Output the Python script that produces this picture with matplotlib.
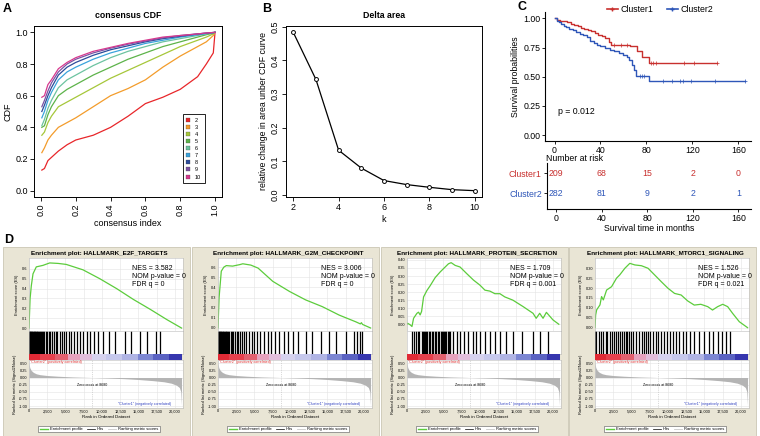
import numpy as np
import matplotlib.pyplot as plt
from matplotlib.patches import Rectangle
from matplotlib.lines import Line2D

plt.rcParams['font.family'] = ['Liberation Sans', 'DejaVu Sans']

# ---------------- data ----------------
# A: consensus CDF
cdf_x = [0.005, 0.02, 0.04, 0.06, 0.1, 0.15, 0.2, 0.3, 0.4, 0.5, 0.6, 0.7, 0.8, 0.9, 0.95, 0.99, 1.0]
cdf_k = ['2', '3', '4', '5', '6', '7', '8', '9', '10']
cdf_y = {
    '2': [0.13, 0.14, 0.19, 0.21, 0.25, 0.29, 0.32, 0.35, 0.40, 0.47, 0.55, 0.59, 0.64, 0.72, 0.80, 0.87, 1.0],
    '3': [0.24, 0.27, 0.32, 0.35, 0.40, 0.43, 0.46, 0.53, 0.60, 0.645, 0.70, 0.78, 0.85, 0.91, 0.94, 0.98, 1.0],
    '4': [0.35, 0.37, 0.43, 0.47, 0.53, 0.56, 0.59, 0.65, 0.71, 0.76, 0.81, 0.86, 0.91, 0.95, 0.97, 0.99, 1.0],
    '5': [0.40, 0.41, 0.48, 0.53, 0.60, 0.64, 0.67, 0.73, 0.78, 0.83, 0.87, 0.91, 0.94, 0.97, 0.985, 0.995, 1.0],
    '6': [0.41, 0.45, 0.52, 0.57, 0.65, 0.70, 0.73, 0.79, 0.84, 0.88, 0.91, 0.94, 0.96, 0.98, 0.99, 0.998, 1.0],
    '7': [0.46, 0.50, 0.57, 0.62, 0.70, 0.75, 0.78, 0.83, 0.87, 0.90, 0.93, 0.95, 0.97, 0.985, 0.992, 0.998, 1.0],
    '8': [0.50, 0.54, 0.60, 0.65, 0.73, 0.78, 0.81, 0.855, 0.89, 0.915, 0.94, 0.96, 0.975, 0.99, 0.995, 0.999, 1.0],
    '9': [0.53, 0.57, 0.63, 0.68, 0.75, 0.80, 0.83, 0.87, 0.90, 0.925, 0.945, 0.965, 0.98, 0.99, 0.995, 0.999, 1.0],
    '10': [0.59, 0.60, 0.67, 0.70, 0.77, 0.81, 0.84, 0.88, 0.905, 0.93, 0.95, 0.97, 0.98, 0.99, 0.996, 0.999, 1.0],
}
cdf_colors = ['#E8262A', '#F39C2B', '#A6C73A', '#5DB34A', '#6CC3A0', '#3AA3DC', '#2B4C9B', '#7B52A3', '#D6398E']

# B: delta area
delta_k = [2, 3, 4, 5, 6, 7, 8, 9, 10]
delta_val = [0.483, 0.343, 0.133, 0.080, 0.043, 0.031, 0.023, 0.016, 0.013]

# C: survival
c1_time = [0, 2, 5, 8, 11, 14, 17, 20, 23, 26, 29, 32, 35, 38, 41, 44, 47, 49, 66, 72, 76, 82, 141]
c1_surv = [1.0, 0.99, 0.98, 0.975, 0.965, 0.955, 0.945, 0.935, 0.92, 0.91, 0.9, 0.89, 0.875, 0.86,
           0.85, 0.83, 0.80, 0.77, 0.76, 0.72, 0.67, 0.62, 0.62]
c1_cens = [52, 58, 63, 84, 86, 88, 113, 121, 141]
c2_time = [0, 2, 4, 6, 8, 10, 13, 16, 19, 22, 25, 28, 31, 34, 37, 40, 44, 48, 52, 56, 60, 63, 65,
           67, 69, 71, 82, 166]
c2_surv = [1.0, 0.98, 0.965, 0.95, 0.935, 0.925, 0.91, 0.9, 0.885, 0.87, 0.855, 0.84, 0.81, 0.79,
           0.775, 0.76, 0.745, 0.73, 0.72, 0.705, 0.69, 0.67, 0.64, 0.6, 0.56, 0.51, 0.46, 0.46]
c2_cens = [74, 76, 78, 94, 102, 109, 112, 119, 140, 166]
risk_times = [0, 40, 80, 120, 160]
risk_c1 = [209, 68, 15, 2, 0]
risk_c2 = [282, 81, 9, 2, 1]
p_text = 'p = 0.012'

# D: GSEA
gsea_names = ['HALLMARK_E2F_TARGETS', 'HALLMARK_G2M_CHECKPOINT',
              'HALLMARK_PROTEIN_SECRETION', 'HALLMARK_MTORC1_SIGNALING']
gsea_nes = ['3.582', '3.006', '1.709', '1.526']
gsea_p = ['0', '0', '0', '0']
gsea_fdr = ['0', '0', '0.001', '0.021']
es_rank = [
    [0, 150, 320, 550, 1000, 1900, 2840, 4000, 5100, 7400, 9700, 12000, 14300, 16600, 18900, 20900],
    [0, 150, 450, 800, 1140, 2000, 3000, 3400, 4500, 5500, 7500, 9800, 12000, 14300, 16600, 18900,
     19500, 19650, 19800, 20900],
    [0, 90, 450, 680, 900, 1360, 1580, 1800, 2000, 2270, 2730, 3180, 3860, 4540, 5230, 5680, 6050,
     6600, 7270, 8180, 9100, 10000, 10680, 11360, 12040, 12730, 13400, 14500, 15900, 17270, 17700,
     18180, 18640, 19100, 20000, 20800],
    [0, 90, 230, 680, 900, 1140, 1590, 2270, 2950, 3400, 4090, 4770, 5450, 6360, 7270, 8180, 9090,
     10000, 10900, 11800, 12700, 13600, 14500, 15450, 16100, 16800, 17500, 18180, 18860, 19770, 20900],
]
es_val = [
    [0.0, 0.30, 0.43, 0.55, 0.62, 0.635, 0.66, 0.655, 0.645, 0.59, 0.50, 0.40, 0.29, 0.19, 0.085, 0.0],
    [0.0, 0.30, 0.56, 0.60, 0.615, 0.61, 0.625, 0.633, 0.62, 0.59, 0.46, 0.36, 0.277, 0.21, 0.127,
     0.06, 0.04, 0.052, 0.035, 0.0],
    [0.0, 0.006, -0.004, -0.014, 0.037, 0.068, 0.075, 0.058, 0.08, 0.17, 0.21, 0.24, 0.29, 0.325,
     0.356, 0.376, 0.383, 0.366, 0.356, 0.315, 0.275, 0.243, 0.212, 0.206, 0.19, 0.19, 0.17, 0.15,
     0.11, 0.068, 0.037, 0.068, 0.037, 0.074, 0.027, 0.0],
    [0.0, 0.064, 0.09, 0.115, 0.157, 0.14, 0.19, 0.207, 0.25, 0.267, 0.30, 0.325, 0.317, 0.313, 0.30,
     0.266, 0.232, 0.199, 0.173, 0.165, 0.135, 0.114, 0.118, 0.106, 0.089, 0.106, 0.118, 0.106,
     0.072, 0.03, 0.0],
]
gsea_hits = [
    [30, 80, 130, 200, 260, 320, 400, 470, 550, 620, 700, 780, 850, 950, 1050, 1150, 1250, 1380,
     1500, 1650, 1800, 1950, 2100, 2300, 2500, 2700, 2900, 3150, 3400, 3650, 3900, 4200, 4500, 4800,
     5100, 5450, 5800, 6200, 6600, 7000, 7400, 7900, 8400, 8900, 9500, 10100, 11000, 11800, 13100,
     14000, 15200, 16100, 17400, 17900],
    [40, 90, 150, 220, 300, 380, 460, 540, 630, 720, 820, 920, 1030, 1150, 1280, 1420, 1570, 1730,
     1900, 2100, 2300, 2550, 2800, 3050, 3300, 3600, 3900, 4250, 4600, 5000, 5400, 5800, 6300, 6800,
     7300, 7800, 8400, 9000, 9600, 10300, 11000, 12000, 12900, 14100, 15200, 16100, 17500, 18600,
     19000, 19500, 19700],
    [700, 900, 1300, 1500, 1700, 2000, 2150, 2300, 2450, 2600, 2800, 3000, 3200, 3400, 3600, 3800,
     4000, 4200, 4400, 4600, 4800, 4950, 5100, 5250, 5400, 5550, 5700, 5900, 6300, 6800, 7300, 7800,
     8400, 9000, 9500, 10000, 10700, 11400, 12000, 12800, 13600, 14500, 15700, 17300, 18200, 19300],
    [50, 200, 600, 850, 1100, 1500, 1700, 2000, 2300, 2600, 2900, 3200, 3400, 3700, 3950, 4200, 4450,
     4700, 4950, 5200, 5600, 6000, 6400, 6700, 7000, 7300, 7600, 7900, 8300, 8700, 9100, 9500, 9900,
     10300, 10700, 11100, 11500, 12000, 12500, 13000, 13500, 14200, 15000, 15600, 16200, 16800,
     17400, 17900, 18500],
]
metric_rank = [0, 100, 300, 600, 1000, 1500, 2500, 4000, 6000, 8680, 11000, 13000, 15000, 17000,
               18500, 19500, 20200, 20600, 20800, 20900]
metric_val = [0.5, 0.35, 0.25, 0.18, 0.13, 0.10, 0.07, 0.045, 0.02, 0.0, -0.02, -0.04, -0.07, -0.11,
              -0.15, -0.2, -0.27, -0.35, -0.5, -1.0]
zero_cross = 8680
band_edges = [0, 1500, 3500, 5300, 7000, 8700, 10500, 12700, 15000, 17000, 19200, 20900]
band_colors = ['#e02a35', '#e6404c', '#e2606e', '#e6a2bd', '#e2bedb', '#d6d2ee', '#c6c8ec',
               '#b0b4e4', '#7c86d2', '#5a62c2', '#3636ae']
es_ylim = [(-0.03, 0.71), (-0.03, 0.69), (-0.042, 0.412), (-0.017, 0.352)]
es_ticks = [np.arange(0, 0.61, 0.1), np.arange(0, 0.61, 0.1),
            np.arange(0, 0.41, 0.05), np.arange(0, 0.31, 0.05)]
es_fmt = ['%.1f', '%.1f', '%.2f', '%.2f']

# ---------------- figure ----------------
W, H = 760, 436
fig = plt.figure(figsize=(W / 100, H / 100), dpi=100)


def px_axes(x0, y0, x1, y1):
    return fig.add_axes([x0 / W, 1 - y1 / H, (x1 - x0) / W, (y1 - y0) / H])


def fx(x):
    return x / W


def fy(y):
    return 1 - y / H


for lab, x, y in [('A', 3, 9), ('B', 262, 9), ('C', 517, 7), ('D', 4, 240)]:
    fig.text(fx(x), fy(y), lab, fontsize=9, fontweight='bold', va='center', ha='left')

# ----- A -----
axA = px_axes(34, 26, 222, 197)
for k, c in zip(cdf_k, cdf_colors):
    axA.plot(cdf_x, cdf_y[k], color=c, lw=0.9, label=k)
axA.set_xlim(-0.04, 1.04)
axA.set_ylim(-0.04, 1.04)
axA.set_xticks(np.arange(0, 1.01, 0.2))
axA.set_xticklabels(['0.0', '0.2', '0.4', '0.6', '0.8', '1.0'], rotation=90)
axA.set_yticks(np.arange(0, 1.01, 0.2))
axA.set_yticklabels(['0.0', '0.2', '0.4', '0.6', '0.8', '1.0'])
axA.tick_params(labelsize=6.5, length=3, width=0.6, pad=1.5)
axA.set_title('consensus CDF', fontsize=6.3, fontweight='bold', pad=6)
axA.set_xlabel('consensus index', fontsize=6.5, labelpad=2)
axA.set_ylabel('CDF', fontsize=6.5, labelpad=2)
for s in axA.spines.values():
    s.set_linewidth(0.7)
hA = [Line2D([], [], marker='s', ls='none', color=c, markersize=3, markeredgecolor='#444444',
             markeredgewidth=0.2) for c in cdf_colors]
axA.legend(hA, cdf_k, loc='upper left', bbox_to_anchor=(fx(180), fy(111.5)),
           bbox_transform=fig.transFigure, fontsize=4, handlelength=0.8, handletextpad=0.8,
           labelspacing=0.38, borderpad=0.6, frameon=True, fancybox=False, edgecolor='black',
           framealpha=1).get_frame().set_linewidth(0.6)

# ----- B -----
axB = px_axes(286, 26, 482, 197)
axB.plot(delta_k, delta_val, color='black', lw=0.9, marker='o', markersize=2.8,
         markerfacecolor='white', markeredgewidth=0.7)
axB.set_xlim(2 - 0.32, 10 + 0.32)
axB.set_ylim(-0.0058, 0.5018)
axB.set_xticks([2, 4, 6, 8, 10])
axB.set_yticks([0, 0.1, 0.2, 0.3, 0.4, 0.5])
axB.set_yticklabels(['0.0', '0.1', '0.2', '0.3', '0.4', '0.5'], rotation=90, va='center')
axB.tick_params(labelsize=6.5, length=3, width=0.6, pad=1.5)
axB.set_title('Delta area', fontsize=6.3, fontweight='bold', pad=6)
axB.set_xlabel('k', fontsize=6.5, labelpad=2)
axB.set_ylabel('relative change in area unber CDF curve', fontsize=6.3, labelpad=2)
for s in axB.spines.values():
    s.set_linewidth(0.7)

# ----- C -----
red, blue = '#C8302E', '#2E56B8'
axC = px_axes(545, 12.5, 751, 141)
for t, sv, cens, col, lab in [(c1_time, c1_surv, c1_cens, red, 'Cluster1'),
                               (c2_time, c2_surv, c2_cens, blue, 'Cluster2')]:
    axC.step(t, sv, where='post', color=col, lw=1.0, label=lab)
    cy = [sv[np.searchsorted(t, c, side='right') - 1] for c in cens]
    axC.plot(cens, cy, ls='none', marker='+', color=col, markersize=2.5, markeredgewidth=0.5)
axC.set_xlim(-8.3, 171)
axC.set_ylim(-0.05, 1.05)
axC.set_xticks(risk_times)
axC.set_yticks([0, 0.25, 0.5, 0.75, 1.0])
axC.set_yticklabels(['0.00', '0.25', '0.50', '0.75', '1.00'])
axC.tick_params(labelsize=6.3, length=2, width=0.6, pad=1.5)
axC.spines['top'].set_visible(False)
axC.spines['right'].set_visible(False)
axC.set_ylabel('Survival probabilities', fontsize=6.3, labelpad=2)
axC.text(3, 0.2, p_text, fontsize=6.3, va='center', ha='left')
hC = [Line2D([], [], color=red, lw=1.2, marker='+', markersize=3),
      Line2D([], [], color=blue, lw=1.2, marker='+', markersize=3)]
axC.legend(hC, ['Cluster1', 'Cluster2'], loc='center', bbox_to_anchor=(fx(660), fy(10)),
           bbox_transform=fig.transFigure, ncol=2, fontsize=6.3, frameon=False, handlelength=1.3,
           handletextpad=0.3, columnspacing=1.5, borderpad=0)

axR = px_axes(546.7, 163, 751, 209)
for yv, vals, col in [(2, risk_c1, red), (1, risk_c2, blue)]:
    for t, v in zip(risk_times, vals):
        axR.text(t, yv, str(v), color=col, fontsize=6.3, ha='center', va='center')
axR.set_xlim(-8.3, 171)
axR.set_ylim(0.215, 2.515)
axR.set_xticks(risk_times)
axR.set_yticks([2, 1])
axR.set_yticklabels(['Cluster1', 'Cluster2'])
for tl, col in zip(axR.get_yticklabels(), [red, blue]):
    tl.set_color(col)
axR.tick_params(labelsize=6.3, length=2, width=0.6, pad=1.5)
axR.spines['top'].set_visible(False)
axR.spines['right'].set_visible(False)
axR.set_xlabel('Survival time in months', fontsize=6.3, labelpad=1)
fig.text(fx(546), fy(158.3), 'Number at risk', fontsize=6.3, va='center', ha='left')

# ----- D -----
green = '#5ccc3c'
plot_lefts = [29, 218, 407, 595]
for i, ox in enumerate(plot_lefts):
    fig.patches.append(Rectangle((fx(ox - 26), fy(436)), 187 / W, (436 - 247) / H,
                                 transform=fig.transFigure, facecolor='#e9e5d5',
                                 edgecolor='#cbc6b4', lw=0.6, zorder=-10))
    fig.text(fx(ox + 70), fy(253.5), 'Enrichment plot: ' + gsea_names[i], fontsize=4.6,
             fontweight='bold', ha='center', va='center')
    xr = ox + 154
    xmax = 21100

    axE = px_axes(ox, 258, xr, 331)
    axE.plot(es_rank[i], es_val[i], color=green, lw=0.9)
    axE.set_xlim(0, xmax)
    axE.set_ylim(*es_ylim[i])
    axE.set_yticks(es_ticks[i])
    axE.set_yticklabels([es_fmt[i] % v for v in es_ticks[i]])
    axE.set_xticks(np.arange(0, 20001, 2500))
    axE.tick_params(labelsize=2.8, length=0, pad=1, labelbottom=False)
    axE.grid(True, color='#e4e4e4', lw=0.4)
    axE.set_axisbelow(True)
    axE.set_ylabel('Enrichment score (ES)', fontsize=2.9, labelpad=2)
    axE.text(0.67, 0.9, 'NES = %s\nNOM p-value = %s\nFDR q = %s' % (gsea_nes[i], gsea_p[i],
             gsea_fdr[i]), transform=axE.transAxes, fontsize=5, va='top', ha='left',
             linespacing=1.15)
    for s in axE.spines.values():
        s.set_color('#bbbbbb')
        s.set_linewidth(0.4)

    axH = px_axes(ox, 331, xr, 354)
    axH.vlines(gsea_hits[i], 0, 1, color='black', lw=0.9)
    axH.set_xlim(0, xmax)
    axH.set_ylim(0, 1)
    axH.set_xticks([])
    axH.set_yticks([])
    for s in axH.spines.values():
        s.set_color('#bbbbbb')
        s.set_linewidth(0.4)

    axBar = px_axes(ox, 354, xr, 360)
    for a, b, c in zip(band_edges[:-1], band_edges[1:], band_colors):
        axBar.axvspan(a, b, color=c, lw=0)
    axBar.set_xlim(0, xmax)
    axBar.set_ylim(0, 1)
    axBar.axis('off')

    axM = px_axes(ox, 360, xr, 408)
    axM.fill_between(metric_rank, metric_val, 0, color='#b4b4b4', lw=0)
    axM.axvline(zero_cross, color='#bbbbbb', lw=0.4, ls=(0, (2, 2)))
    axM.set_xlim(0, xmax)
    axM.set_ylim(-1.07, 0.615)
    mt = [0.5, 0.25, 0.0, -0.25, -0.5, -0.75, -1.0]
    axM.set_yticks(mt)
    axM.set_yticklabels(['%.2f' % v for v in mt])
    axM.set_xticks(np.arange(0, 20001, 2500))
    axM.set_xticklabels(['{:,}'.format(v) for v in range(0, 20001, 2500)])
    axM.tick_params(labelsize=2.8, length=0, pad=1)
    axM.grid(True, color='#e4e4e4', lw=0.4)
    axM.set_axisbelow(True)
    axM.set_xlabel('Rank in Ordered Dataset', fontsize=3.2, labelpad=1)
    axM.set_ylabel('Ranked list metric (Signal2Noise)', fontsize=2.9, labelpad=1)
    axM.text(150, 0.54, '"Cluster2" (positively correlated)', color='#e03030', fontsize=2.6,
             va='center', ha='left')
    axM.text(zero_cross, -0.27, 'Zero cross at %d' % zero_cross, fontsize=2.6, va='center',
             ha='center')
    axM.text(19400, -0.93, '"Cluster1" (negatively correlated)', color='#3040c0', fontsize=2.6,
             va='center', ha='right')
    for s in axM.spines.values():
        s.set_color('#bbbbbb')
        s.set_linewidth(0.4)

    hD = [Line2D([], [], color=green, lw=1.0), Line2D([], [], color='black', lw=0.5),
          Line2D([], [], color='#c8c8c8', lw=0.6)]
    lg = axM.legend(hD, ['Enrichment profile', 'Hits', 'Ranking metric scores'], loc='center',
                    bbox_to_anchor=(fx(ox + 70), fy(429)), bbox_transform=fig.transFigure,
                    ncol=3, fontsize=3, frameon=True, fancybox=False, edgecolor='#555555',
                    handlelength=2, handletextpad=0.4, columnspacing=1.0, borderpad=0.35,
                    framealpha=1)
    lg.get_frame().set_linewidth(0.4)

fig.savefig('out.png', dpi=100)
